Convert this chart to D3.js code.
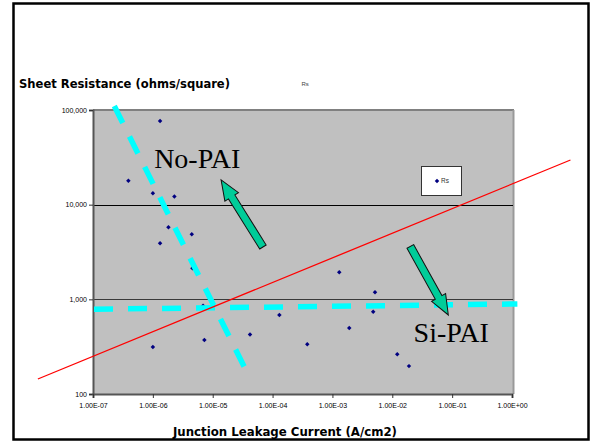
<!DOCTYPE html>
<html>
<head>
<meta charset="utf-8">
<script src="https://cdn.jsdelivr.net/npm/d3@7/dist/d3.min.js"></script>
<style>
  html, body { margin: 0; padding: 0; background: #fff; }
  svg { display: block; }
</style>
</head>
<body>
<svg id="chart" width="591" height="444"></svg>
<script>
// Sheet resistance (Rs) versus junction leakage current, log-log
const leakage = [1.32e-6, 3.9e-7, 1.0e-6, 2.29e-6, 1.82e-6, 4.47e-6, 1.32e-6, 4.58e-6, 6.9e-6, 1.0e-6,
                 7.26e-6, 4.2e-5, 1.30e-4, 3.8e-4, 1.30e-3, 1.91e-3, 5.14e-3, 4.8e-3, 1.21e-2, 1.90e-2];
const rs      = [76600, 17900, 13200, 12200, 5770, 4860, 3910, 2130, 857, 314,
                 372, 424, 684, 336, 1930, 499, 1190, 741, 263, 197];

const xTicks = [1e-7, 1e-6, 1e-5, 1e-4, 1e-3, 1e-2, 1e-1, 1];
const yTicks = [100, 1000, 10000, 100000];
const gridValues = [1000, 10000];

// Trend line (red) end points
const trendX = [1.20e-8, 9.48];
const trendY = [144, 29650];
// Guide lines (cyan, dashed)
const flatX = [1.04e-7, 1.23];
const flatY = [785, 893];
const steepX = [2.27e-7, 3.39e-5];
const steepY = [110200, 192];

// Annotation arrows: tail -> tip
const arrowTailX = [6.9e-5, 2.0e-2];
const arrowTailY = [3570, 3620];
const arrowTipX  = [1.38e-5, 8.63e-2];
const arrowTipY  = [18240, 684];
// Region labels
const labelText = ["No-PAI", "Si-PAI"];
const labelX = [1.05e-6, 2.27e-2];
const labelY = [24200, 357];

const svg = d3.select("#chart");

const plot = { left: 93, right: 512, top: 110, bottom: 394 };
const x = d3.scaleLog().domain([1e-7, 1]).range([plot.left, plot.right]);
const y = d3.scaleLog().domain([100, 100000]).range([plot.bottom, plot.top]);

// Marker: small square turned 45 degrees
const diamond = d3.symbol().type(d3.symbolSquare).size(10);

// Outer frame
svg.append("rect")
  .attr("x", 13.5).attr("y", 3.5).attr("width", 575).attr("height", 436)
  .attr("fill", "#fff").attr("stroke", "#000").attr("stroke-width", 2.5);

// Plot background
svg.append("rect")
  .attr("x", plot.left).attr("y", plot.top)
  .attr("width", plot.right - plot.left + 1).attr("height", plot.bottom - plot.top)
  .attr("fill", "#c0c0c0");
// Top and right borders of the plot area
svg.append("line")
  .attr("x1", plot.left).attr("x2", plot.right + 2)
  .attr("y1", plot.top).attr("y2", plot.top)
  .attr("stroke", "#808080").attr("stroke-width", 2);
svg.append("line")
  .attr("x1", plot.right + 1.5).attr("x2", plot.right + 1.5)
  .attr("y1", plot.top).attr("y2", plot.bottom)
  .attr("stroke", "#999").attr("stroke-width", 2);

// Horizontal gridlines
svg.append("g").selectAll("line").data(gridValues).join("line")
  .attr("x1", plot.left).attr("x2", plot.right + 1)
  .attr("y1", d => Math.round(y(d)) + 0.5).attr("y2", d => Math.round(y(d)) + 0.5)
  .attr("stroke", (d, i) => i === 0 ? "#3a3a3a" : "#000").attr("stroke-width", 1);

// Axes
const fmtExp = d => {
  const e = Math.round(Math.log10(d));
  const s = e < 0 ? "-" : "+";
  return "1.00E" + s + String(Math.abs(e)).padStart(2, "0");
};
const yAxis = svg.append("g")
  .attr("transform", `translate(${plot.left},0)`)
  .call(d3.axisLeft(y).tickValues(yTicks).tickFormat(d3.format(",")).tickSize(4).tickPadding(2));
const xAxis = svg.append("g")
  .attr("transform", `translate(0,${plot.bottom})`)
  .call(d3.axisBottom(x).tickValues(xTicks).tickFormat(fmtExp).tickSize(4).tickPadding(5));
[yAxis, xAxis].forEach(g => {
  g.select(".domain").attr("stroke", "#555").attr("stroke-width", 2);
  g.selectAll(".tick line").attr("stroke", "#333").attr("stroke-width", 1);
  g.selectAll(".tick text").attr("font-family", "Liberation Sans, Arial, sans-serif")
    .attr("font-size", 7).attr("fill", "#000");
});

// Data points (navy diamonds)
const pts = leakage.map((v, i) => [x(v), y(rs[i])]);
svg.append("g").selectAll("path").data(pts).join("path")
  .attr("d", diamond)
  .attr("transform", d => `translate(${d[0]},${d[1]}) rotate(45)`)
  .attr("fill", "#000080");

// Cyan dashed guide lines
const guide = (xs, ys) => svg.append("line")
  .attr("x1", x(xs[0])).attr("y1", y(ys[0]))
  .attr("x2", x(xs[1])).attr("y2", y(ys[1]))
  .attr("stroke", "#00ffff").attr("stroke-width", 5.5)
  .attr("stroke-dasharray", "19,15");
guide(flatX, flatY);
guide(steepX, steepY);

// Red trend line
svg.append("line")
  .attr("x1", x(trendX[0])).attr("y1", y(trendY[0]))
  .attr("x2", x(trendX[1])).attr("y2", y(trendY[1]))
  .attr("stroke", "#ff0000").attr("stroke-width", 1.3);

// Block arrows
function blockArrow(x0, y0, x1, y1) {
  const dx = x1 - x0, dy = y1 - y0;
  const len = Math.hypot(dx, dy);
  const ang = Math.atan2(dy, dx) * 180 / Math.PI;
  const sw = 3.8, hw = 8, hl = 20;
  const pts = [[0, -sw], [len - hl, -sw], [len - hl, -hw], [len, 0],
               [len - hl, hw], [len - hl, sw], [0, sw]];
  svg.append("polygon")
    .attr("points", pts.map(p => p.join(",")).join(" "))
    .attr("transform", `translate(${x0},${y0}) rotate(${ang})`)
    .attr("fill", "#00cc99").attr("stroke", "#111").attr("stroke-width", 1)
    .attr("stroke-linejoin", "miter");
}
arrowTailX.forEach((v, i) =>
  blockArrow(x(v), y(arrowTailY[i]), x(arrowTipX[i]), y(arrowTipY[i])));

// Region labels
svg.append("g").selectAll("text").data(labelText).join("text")
  .attr("x", (d, i) => x(labelX[i])).attr("y", (d, i) => y(labelY[i]))
  .attr("font-family", "Liberation Serif, Times New Roman, serif")
  .attr("font-size", 28).attr("fill", "#000")
  .text(d => d);

// Legend
const lg = svg.append("g").attr("transform", "translate(421.5,166.5)");
lg.append("rect").attr("width", 40).attr("height", 29)
  .attr("fill", "#fff").attr("stroke", "#333").attr("stroke-width", 1);
lg.append("path").attr("d", diamond)
  .attr("transform", "translate(15.5,14.5) rotate(45)").attr("fill", "#000080");
lg.append("text").attr("x", 19.5).attr("y", 16)
  .attr("font-family", "Liberation Sans, Arial, sans-serif").attr("font-size", 6.5)
  .attr("fill", "#333").text("Rs");

// Series name above the plot
svg.append("text").attr("x", 301.5).attr("y", 86)
  .attr("font-family", "Liberation Sans, Arial, sans-serif").attr("font-size", 6)
  .attr("fill", "#444").text("Rs");

// Axis titles
svg.append("text").attr("x", 19).attr("y", 88)
  .attr("font-family", "DejaVu Sans, Verdana, sans-serif").attr("font-weight", "bold")
  .attr("font-size", 12).attr("textLength", 211).attr("lengthAdjust", "spacingAndGlyphs")
  .attr("fill", "#000").text("Sheet Resistance (ohms/square)");
svg.append("text").attr("x", 173).attr("y", 436)
  .attr("font-family", "DejaVu Sans Condensed, DejaVu Sans, sans-serif").attr("font-weight", "bold")
  .attr("font-size", 13).attr("textLength", 224).attr("lengthAdjust", "spacingAndGlyphs")
  .attr("fill", "#000").text("Junction Leakage Current (A/cm2)");
</script>
</body>
</html>
